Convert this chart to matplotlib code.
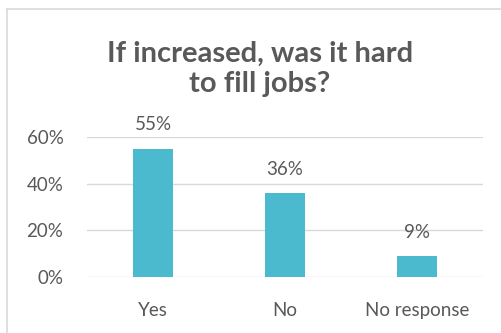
import matplotlib
matplotlib.use("Agg")
import matplotlib.pyplot as plt
from matplotlib.lines import Line2D
from matplotlib.ticker import FuncFormatter

categories = ["Yes", "No", "No response"]
shares = [55, 36, 9]
y_ticks = [0, 20, 40, 60]

title = "If increased, was it hard\nto fill jobs?"

bar_color = "#4BB9CE"
text_color = "#595959"
grid_color = "#D9D9D9"

W, H, DPI = 502, 333, 100
fig = plt.figure(figsize=(W / DPI, H / DPI), dpi=DPI)
fig.patch.set_facecolor("white")

# chart frame (top and left edges visible)
fig.add_artist(Line2D([7 / W, 1], [1 - 9 / H, 1 - 9 / H], color="#D9D9D9", lw=1.2))
fig.add_artist(Line2D([7 / W, 7 / W], [0, 1 - 9 / H], color="#D9D9D9", lw=1.2))

ax = fig.add_axes([87 / W, 1 - 277 / H, (483 - 87) / W, (277 - 137) / H])
x = range(len(categories))
bars = ax.bar(x, shares, width=0.305, color=bar_color, zorder=3)

for rect, v in zip(bars, shares):
    ax.annotate(f"{v}%", (rect.get_x() + rect.get_width() / 2, v),
                xytext=(0, 11), textcoords="offset points",
                ha="center", va="bottom", fontsize=13.5,
                color=text_color, family="Lato")

ax.set_xlim(-0.5, len(categories) - 0.5)
ax.set_ylim(0, 60)
ax.set_yticks(y_ticks)
ax.yaxis.set_major_formatter(FuncFormatter(lambda v, p: f"{v:.0f}%"))
ax.set_xticks(list(x))
ax.set_xticklabels(categories)
ax.grid(axis="y", color=grid_color, lw=1, zorder=0)
ax.tick_params(length=0, labelsize=13.5, labelcolor=text_color)
ax.tick_params(axis="y", pad=17)
ax.tick_params(axis="x", pad=18)
for lab in ax.get_xticklabels() + ax.get_yticklabels():
    lab.set_family("Lato")
for s in ax.spines.values():
    s.set_visible(False)

fig.text(260 / W, 1 - 69 / H, title, ha="center", va="center",
         fontsize=21, fontweight="bold", color=text_color,
         family="Lato", linespacing=1.22)

fig.savefig("out.png", dpi=DPI, facecolor="white")
